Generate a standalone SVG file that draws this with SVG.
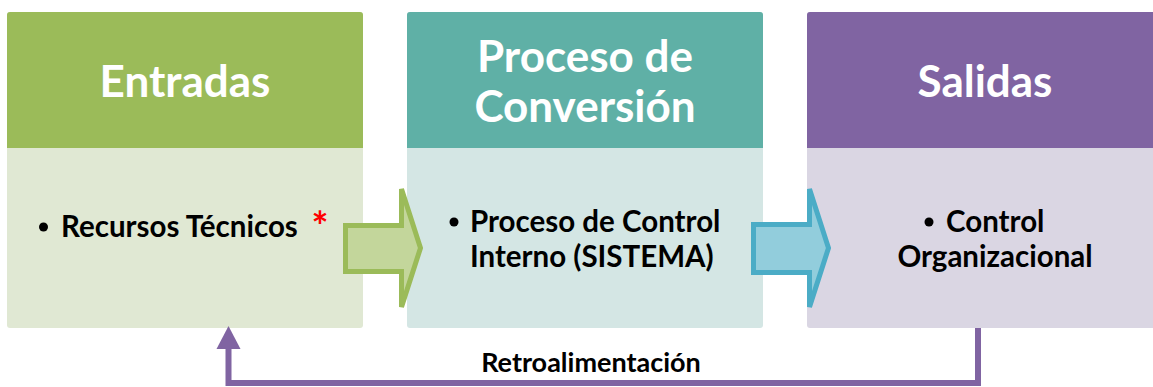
<svg xmlns="http://www.w3.org/2000/svg" width="1153" height="387" viewBox="0 0 1153 387">
<style>
.hd{font-family:Lato,"Open Sans",sans-serif;font-weight:bold;font-size:44px;fill:#ffffff;text-anchor:middle}
.bd{font-family:Lato,"Open Sans",sans-serif;font-weight:bold;font-size:29.5px;fill:#000000}
.lbl{font-family:Lato,"Open Sans",sans-serif;font-weight:bold;font-size:27px;fill:#000000;text-anchor:middle}
.blt{fill:#000000}
</style>
<g id="node-entradas">
<rect x="7" y="12" width="356" height="316" rx="3" fill="#e0e8d3"/>
<path d="M7,148 V15 a3,3 0 0 1 3,-3 H360 a3,3 0 0 1 3,3 V148 Z" fill="#9bbb59"/>
<text class="hd" x="185" y="97">Entradas</text>
<circle class="blt" cx="43.5" cy="227" r="4.5"/>
<text class="bd" x="61" y="237">Recursos Técnicos</text>
<text x="320" y="241" font-family="Lato,'Open Sans',sans-serif" font-weight="bold" font-size="40" fill="#ff0000" text-anchor="middle">*</text>
</g>
<g id="node-proceso">
<rect x="407" y="12" width="356" height="316" rx="3" fill="#d4e6e4"/>
<path d="M407,148 V15 a3,3 0 0 1 3,-3 H760 a3,3 0 0 1 3,3 V148 Z" fill="#5fb0a6"/>
<text class="hd" x="585" y="72">Proceso de</text>
<text class="hd" x="585" y="122">Conversión</text>
<circle class="blt" cx="454" cy="222" r="4.5"/>
<text class="bd" x="470" y="232">Proceso de Control</text>
<text class="bd" x="470" y="267">Interno (SISTEMA)</text>
</g>
<g id="node-salidas">
<rect x="807" y="12" width="356" height="316" rx="3" fill="#dad6e3"/>
<path d="M807,148 V15 a3,3 0 0 1 3,-3 H1160 a3,3 0 0 1 3,3 V148 Z" fill="#8064a2"/>
<text class="hd" x="985" y="97">Salidas</text>
<circle class="blt" cx="929" cy="222" r="4.5"/>
<text class="bd" x="946" y="232">Control</text>
<text class="bd" x="995" y="267" text-anchor="middle">Organizacional</text>
</g>
<g id="connectors">
<path d="M345.5,225.5 H401.5 V189 L420.5,248 L401.5,307 V271.5 H345.5 Z" fill="#c3d69b" stroke="#9bbb59" stroke-width="5"/>
<path d="M753.5,224.5 H809.5 V189 L828.5,248 L809.5,307 V272.5 H753.5 Z" fill="#92cddc" stroke="#4bacc6" stroke-width="5"/>
<path d="M978,328 V383 H228.5 V346" fill="none" stroke="#8064a2" stroke-width="6"/>
<polygon points="228.5,326 240.5,349 216.5,349" fill="#8064a2"/>
<text class="lbl" x="591" y="372">Retroalimentación</text>
</g>
</svg>
